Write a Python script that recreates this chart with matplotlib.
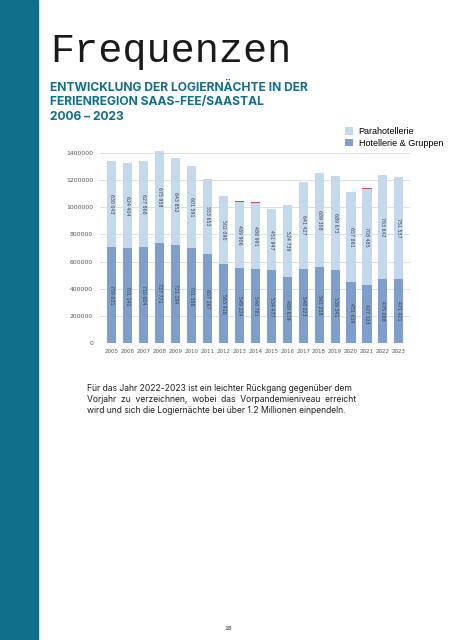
import numpy as np
import matplotlib.pyplot as plt

years = [str(y) for y in range(2005, 2024)]
hotel = [709031, 701141, 710604, 737771, 721194, 701356, 657167, 583918, 549324,
         546781, 534477, 489619, 548023, 561258, 539341, 451619, 427123, 475088, 471421]
para = [630043, 624404, 627868, 675958, 643852, 601591, 553653, 502090, 489906,
        486991, 451947, 524739, 641427, 689308, 689673, 657861, 708485, 763642, 751537]
other = [0, 0, 0, 0, 0, 0, 0, 0, 5000, 5000, 0, 0, 0, 0, 0, 0, 5000, 0, 0]

teal = '#0f6e8a'
c_hotel = '#7e9ecd'
c_para = '#c4d8ee'

fig = plt.figure(figsize=(4.53, 6.40), dpi=100)

# teal band at the left
fig.patches.append(plt.Rectangle((0, 0), 38/453, 1, transform=fig.transFigure,
                                 color=teal, zorder=0))

fig.text(50/453, 1-62/640, 'Frequenzen', family='Liberation Mono', fontsize=29, color='#1a1a1a')
fig.text(50/453, 1-120/640, 'ENTWICKLUNG DER LOGIERNÄCHTE IN DER\nFERIENREGION SAAS-FEE/SAASTAL\n2006 – 2023',
         family='Inter', fontweight='bold', fontsize=8.7, color=teal, linespacing=1.3)

ax = fig.add_axes([100/453, 1-343/640, 310/453, 190/640])
x = np.arange(len(years))
w = 0.57
ax.bar(x, hotel, w, color=c_hotel, label='Hotellerie & Gruppen', zorder=2)
ax.bar(x, para, w, bottom=hotel, color=c_para, label='Parahotellerie', zorder=2, clip_on=False)
tops = np.array(hotel) + np.array(para)
ax.bar(x, other, w, bottom=tops, color='#c0504d', zorder=2, clip_on=False)

for i in range(len(years)):
    ax.text(x[i], hotel[i]/2, f'{hotel[i]:,}'.replace(',', ' '), rotation=270,
            ha='center', va='center', fontsize=3.4, color='#444444')
    ax.text(x[i], hotel[i] + para[i]/2, f'{para[i]:,}'.replace(',', ' '), rotation=270,
            ha='center', va='center', fontsize=3.4, color='#444444')

ax.set_xlim(-0.75, len(years) - 0.3)
ax.set_ylim(0, 1400000)
ax.set_yticks(np.arange(0, 1400001, 200000))
ax.set_yticklabels([str(v) for v in range(0, 1400001, 200000)])
ax.set_xticks(x)
ax.set_xticklabels(years)
ax.tick_params(axis='y', labelsize=4.4, colors='#555555', length=0, pad=5)
ax.tick_params(axis='x', labelsize=4.0, colors='#555555', length=0, pad=4)
ax.grid(axis='y', color='#d9d9d9', linewidth=0.6, zorder=0)
for s in ax.spines.values():
    s.set_visible(False)
ax.axhline(0, color='#d9d9d9', linewidth=0.6, zorder=1)

h, l = ax.get_legend_handles_labels()
fig.legend(h[::-1], l[::-1], loc='upper left', bbox_to_anchor=(337/453, 1-119/640),
           frameon=False, handlelength=0.9, handleheight=0.9,
           handletextpad=0.6, labelspacing=0.3, prop={'family': 'Liberation Sans', 'size': 6.5})

fig.text(87/453, 1-413/640,
         'Für das Jahr 2022-2023 ist ein leichter Rückgang gegenüber dem\n'
         'Vorjahr  zu  verzeichnen,  wobei  das  Vorpandemieniveau  erreicht\n'
         'wird und sich die Logiernächte bei über 1.2 Millionen einpendeln.',
         family='Inter', fontsize=6.2, color='#222222', linespacing=1.3)

fig.text(228/453, 1-630/640, '18', family='DejaVu Sans Mono', fontsize=4.5, color='#333333', ha='center')

fig.savefig('out.png', dpi=100)
